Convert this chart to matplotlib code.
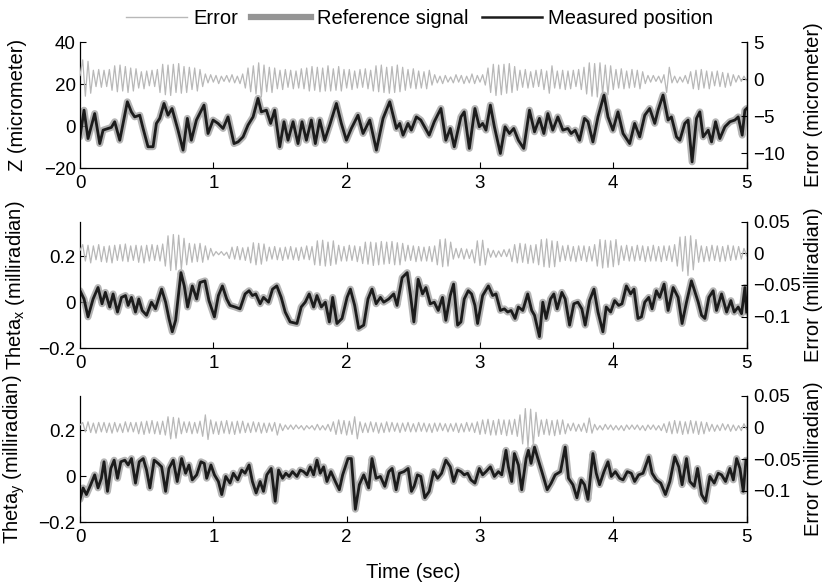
import numpy as np
import matplotlib
matplotlib.use("Agg")
import matplotlib.pyplot as plt
from matplotlib.lines import Line2D

plt.rcParams['font.family'] = ['Liberation Sans', 'DejaVu Sans']
plt.rcParams['mathtext.fontset'] = 'custom'
plt.rcParams['mathtext.rm'] = 'Liberation Sans'

# ---- data ----
# Z axis: measured position (micrometer), sampled at the turning points
z_t = [0.000, 0.030, 0.060, 0.110, 0.148, 0.173, 0.210, 0.235, 0.260, 0.298, 0.355, 0.385, 0.410, 0.448, 0.473,
       0.510, 0.548, 0.573, 0.598, 0.630, 0.660, 0.690, 0.735, 0.773, 0.805, 0.835, 0.873, 0.930, 0.960, 0.998,
       1.035, 1.073, 1.110, 1.155, 1.185, 1.223, 1.260, 1.298, 1.335, 1.360, 1.398, 1.430, 1.460, 1.498, 1.530,
       1.560, 1.598, 1.635, 1.665, 1.698, 1.735, 1.765, 1.798, 1.835, 1.873, 1.923, 1.960, 1.998, 2.035, 2.085,
       2.123, 2.173, 2.223, 2.273, 2.323, 2.373, 2.398, 2.423, 2.460, 2.485, 2.523,
       2.556, 2.619, 2.657, 2.707, 2.744, 2.777, 2.807, 2.857, 2.882, 2.920, 2.962, 2.995, 3.020, 3.045, 3.078,
       3.108, 3.153, 3.188, 3.221, 3.253, 3.288, 3.328, 3.371, 3.409, 3.446, 3.479, 3.509, 3.546, 3.584, 3.622,
       3.659, 3.684, 3.714, 3.747, 3.784, 3.810, 3.847, 3.885, 3.930, 3.960, 3.997, 4.035, 4.073, 4.123, 4.160,
       4.198, 4.236, 4.273, 4.311, 4.336, 4.373, 4.411, 4.436, 4.474, 4.499, 4.536, 4.561, 4.591, 4.624, 4.649,
       4.674, 4.712, 4.737, 4.767, 4.799, 4.837, 4.875, 4.912, 4.937, 4.967, 4.987, 5.000]
z_pos = [-5.1, 7.6, -5.9, 6.0, -8.3, -1.9, -1.1, -0.6, 2.1, -6.7, 11.6, 6.8, 4.4, 5.2, -1.1,
         -9.8, -9.8, 1.3, 3.7, 10.8, 5.2, 8.4, -1.9, -11.4, 3.7, -6.7, 2.9, 10.0, -3.5, 2.9,
         1.3, -1.1, 4.4, -8.3, -7.5, -5.1, 0.5, 4.4, 13.2, 6.8, 7.6, 1.3, 7.6, -9.8, 2.1,
         -6.7, 2.1, -8.3, 2.1, -6.7, 2.9, -8.3, 2.9, -6.7, 0.5, 10.8, 1.3, -6.7, -1.1, 5.2,
         -3.5, 2.9, -11.4, 3.7, 11.6, -1.1, 1.3, -4.3, 1.3, -1.9, 4.4,
         2.9, -4.3, 2.1, 8.4, -6.7, -1.1, -9.8, 4.4, 6.8, -10.6, 8.4, -0.3, 1.3, -1.9, 10.0,
         -0.3, -13.0, -0.3, -3.5, -1.1, -6.7, -10.6, 7.6, -2.7, 3.7, -3.5, 6.0, -1.9, 4.4, -1.9,
         -1.1, -3.5, -1.9, -6.7, 3.7, 2.1, -7.5, 4.4, 14.8, 4.4, -1.9, 6.8, -3.5, -8.3, 1.3,
         -5.1, 5.2, 8.4, 1.3, 7.6, 14.8, 2.9, 4.4, -5.1, -6.7, 1.3, 2.9, -17.0, 3.7, 6.8,
         -5.1, -1.9, -7.5, 2.1, -5.9, -0.3, 2.1, 2.9, 4.4, -4.3, 7.6, 8.4]
# reference signal lies on top of the measured one at this scale
z_ref = z_pos

# Theta_x: measured position (milliradian)
thx_t = [0.000, 0.030, 0.060, 0.098, 0.135, 0.165, 0.190, 0.223, 0.248, 0.281, 0.311, 0.341, 0.361, 0.386, 0.416,
         0.441, 0.466, 0.499, 0.536, 0.566, 0.612, 0.642, 0.667, 0.692, 0.717, 0.757, 0.782, 0.807, 0.842, 0.875,
         0.900, 0.937, 0.967, 1.008, 1.038, 1.068, 1.100, 1.125, 1.163, 1.200, 1.238, 1.268, 1.293, 1.318, 1.351,
         1.376, 1.414, 1.444, 1.476, 1.509, 1.539, 1.576, 1.627, 1.659, 1.689, 1.719, 1.752, 1.777, 1.810, 1.840,
         1.870, 1.895, 1.927, 1.965, 2.003, 2.028, 2.060, 2.090, 2.128, 2.160, 2.190, 2.221, 2.253, 2.278, 2.316,
         2.353, 2.378, 2.416, 2.454, 2.479, 2.504,
         2.536, 2.569, 2.594, 2.627, 2.657, 2.687, 2.719, 2.744, 2.777, 2.802, 2.832, 2.857, 2.882, 2.912, 2.937,
         2.962, 2.982, 3.020, 3.063, 3.095, 3.120, 3.153, 3.183, 3.208, 3.233, 3.263, 3.288, 3.321, 3.358, 3.388,
         3.409, 3.446, 3.471, 3.496, 3.529, 3.554, 3.579, 3.614, 3.639, 3.672, 3.704, 3.734, 3.764, 3.789, 3.822,
         3.855, 3.885, 3.922, 3.947, 3.980, 4.010, 4.040, 4.065, 4.098, 4.130, 4.155, 4.185, 4.211, 4.236, 4.266,
         4.291, 4.323, 4.348, 4.381, 4.411, 4.449, 4.486, 4.516, 4.549, 4.586, 4.617, 4.637, 4.662, 4.687, 4.717,
         4.749, 4.774, 4.812, 4.850, 4.882, 4.907, 4.937, 4.962, 4.987, 5.000]
thx_pos = [0.050, 0.014, -0.064, 0.014, 0.064, -0.007, 0.043, -0.021, 0.036, -0.043, 0.021, 0.029, -0.014, 0.021, -0.043,
           0.014, -0.036, -0.057, 0.000, -0.029, 0.057, 0.000, -0.071, -0.129, -0.079, 0.129, 0.071, -0.021, 0.071, 0.014,
           0.086, 0.093, 0.007, -0.064, 0.029, 0.071, 0.014, -0.014, -0.021, -0.029, 0.036, 0.050, 0.029, 0.036, -0.007,
           0.021, 0.000, 0.057, 0.071, 0.021, -0.043, -0.086, -0.093, -0.021, 0.000, 0.036, -0.021, 0.029, -0.021, 0.000,
           -0.086, 0.021, -0.093, -0.071, 0.021, 0.057, -0.014, -0.114, -0.100, 0.014, 0.057, -0.007, 0.021, 0.000, 0.014,
           0.036, -0.014, 0.107, 0.129, 0.029, -0.086,
           0.100, 0.036, 0.064, -0.007, 0.000, -0.036, 0.021, -0.079, 0.029, 0.079, -0.100, -0.086, 0.014, 0.050, 0.036,
           -0.014, -0.093, 0.029, 0.071, 0.029, 0.036, -0.036, -0.029, -0.043, -0.036, -0.071, -0.021, -0.036, 0.036, -0.036,
           -0.057, -0.150, 0.000, -0.071, 0.014, 0.036, -0.029, 0.043, 0.014, -0.100, -0.007, 0.000, -0.029, -0.100, 0.007,
           0.057, -0.043, -0.129, -0.021, -0.043, 0.007, -0.014, -0.007, 0.071, 0.036, 0.057, -0.071, -0.064, 0.000, 0.021,
           -0.029, 0.050, 0.021, 0.079, -0.036, 0.064, 0.021, -0.093, 0.000, 0.093, 0.036, 0.000, -0.057, -0.071, 0.021,
           0.050, -0.036, 0.036, -0.043, 0.007, -0.043, -0.021, -0.050, 0.064, -0.043]
thx_ref = thx_pos

# Theta_y: measured position (milliradian)
thy_t = [0.000, 0.023, 0.048, 0.080, 0.110, 0.135, 0.160, 0.180, 0.206, 0.231, 0.256, 0.281, 0.306, 0.336, 0.361,
         0.386, 0.416, 0.444, 0.474, 0.499, 0.524, 0.556, 0.586, 0.612, 0.642, 0.667, 0.699, 0.729, 0.762, 0.792,
         0.817, 0.842, 0.875, 0.907, 0.932, 0.950, 0.982, 1.008, 1.038, 1.063, 1.093, 1.125, 1.150, 1.183, 1.213,
         1.238, 1.268, 1.293, 1.321, 1.351, 1.376, 1.401, 1.434, 1.464, 1.489, 1.519, 1.544, 1.569, 1.594, 1.627,
         1.652, 1.677, 1.702, 1.727, 1.752, 1.777, 1.802, 1.827, 1.852, 1.882, 1.915, 1.945, 1.970, 2.010, 2.035,
         2.065, 2.095, 2.128, 2.165, 2.190, 2.221, 2.253, 2.286, 2.316, 2.341, 2.371, 2.396, 2.429, 2.461, 2.486,
         2.506, 2.531, 2.556, 2.586, 2.619, 2.652, 2.682, 2.712, 2.744, 2.777, 2.802, 2.832, 2.857, 2.882, 2.907,
         2.932, 2.962, 2.995, 3.020, 3.045, 3.078, 3.108, 3.138, 3.163, 3.195, 3.213, 3.238, 3.258, 3.288, 3.313,
         3.346, 3.363, 3.383, 3.409, 3.434, 3.464, 3.504, 3.534, 3.564, 3.604, 3.639, 3.664, 3.697, 3.727, 3.759,
         3.784, 3.810, 3.847, 3.872, 3.897, 3.930, 3.960, 3.985, 4.015, 4.048, 4.073, 4.105, 4.135, 4.160, 4.190,
         4.223, 4.266, 4.291, 4.323, 4.356, 4.391, 4.424, 4.461, 4.491, 4.516, 4.549, 4.574, 4.607, 4.632, 4.662,
         4.692, 4.724, 4.757, 4.787, 4.812, 4.842, 4.875, 4.900, 4.925, 4.950, 4.975, 4.995]
thy_pos = [-0.101, -0.051, -0.080, -0.037, 0.006, -0.051, -0.009, 0.063, -0.066, 0.034, 0.070, -0.009, 0.063, 0.070, 0.049,
           0.077, -0.030, 0.063, 0.077, 0.027, -0.051, 0.070, 0.056, 0.041, -0.066, 0.034, 0.070, -0.023, 0.077, 0.013,
           0.049, -0.016, 0.006, 0.063, 0.056, -0.009, 0.049, 0.006, -0.023, -0.080, -0.001, -0.030, 0.013, -0.016, 0.027,
           0.013, 0.049, -0.023, -0.073, -0.023, -0.066, 0.006, 0.034, -0.109, 0.027, -0.009, 0.013, -0.001, 0.020, -0.001,
           0.027, 0.020, 0.006, 0.041, 0.006, 0.070, 0.013, 0.041, -0.023, 0.020, -0.023, -0.059, 0.006, 0.077, 0.077,
           -0.144, -0.037, 0.006, -0.051, 0.077, -0.009, -0.001, -0.044, 0.020, 0.034, -0.059, 0.013, 0.020, 0.034, -0.066,
           -0.044, 0.006, -0.001, -0.094, -0.066, 0.020, -0.009, 0.013, 0.070, 0.041, -0.023, 0.027, 0.020, 0.006, 0.013,
           -0.016, -0.030, 0.034, 0.006, 0.020, 0.041, -0.001, 0.020, 0.006, 0.113, 0.041, -0.023, 0.099, 0.049, -0.059,
           0.077, 0.113, 0.056, 0.127, 0.077, 0.020, -0.059, -0.030, 0.006, 0.020, 0.127, -0.009, -0.037, -0.094, -0.016,
           -0.037, -0.101, 0.099, 0.013, -0.037, 0.020, 0.063, -0.001, 0.020, -0.009, -0.016, 0.020, 0.013, -0.023, 0.006,
           0.013, 0.084, 0.013, -0.016, -0.030, -0.080, -0.023, 0.084, 0.041, -0.037, 0.077, -0.023, -0.044, 0.034, -0.080,
           -0.109, -0.001, -0.030, 0.013, 0.006, -0.023, 0.034, -0.016, 0.077, 0.034, -0.066, 0.070]
thy_ref = thy_pos

# tracking errors, one value every 0.02 s from 0 to 5 s
err_t = np.linspace(0, 5, 251)
z_err = [0.5, 2.6, -2.3, 2.4, -1.9, 1.2, -1.0, 1.3, -1.1, 1.2,
         -1.0, 1.3, -1.5, 1.8, -1.7, 1.9, -1.6, 1.7, -1.8, 1.5,
         -1.6, 1.4, -1.2, 1.0, -1.3, 1.1, -0.9, 1.2, -1.0, 1.3,
         -1.8, 2.0, -2.1, 1.9, -2.2, 2.0, -1.8, 2.1, -1.9, 1.7,
         -1.8, 1.6, -1.4, 1.5, -1.6, 1.3, -1.0, 0.7, -0.5, 0.6,
         -0.4, 0.5, -0.6, 0.4, -0.3, 0.5, -0.4, 0.6, -0.5, 0.4,
         -0.6, 0.7, -1.2, 1.5, -1.7, 1.8, -2.0, 2.2, -2.4, 1.9,
         -1.7, 1.6, -1.8, 1.5, -1.3, 1.2, -1.4, 1.3, -1.1, 1.2,
         -1.3, 1.1, -1.2, 1.4, -1.3, 1.5, -1.6, 1.7, -1.5, 1.6,
         -1.7, 1.5, -1.6, 1.8, -1.6, 1.4, -1.5, 1.7, -1.6, 1.3,
         -1.2, 1.3, -1.4, 1.1, -1.2, 1.3, -1.1, 1.4, -1.3, 1.2,
         -1.6, 1.8, -1.7, 1.9, -1.8, 1.6, -1.9, 1.7, -1.8, 1.9,
         -1.7, 1.6, -1.5, 1.3, -1.2, 1.4, -1.3, 1.1, -1.2, 1.0,
         -1.3, 1.2, -0.8, 0.6, -0.5, 0.4, -0.6, 0.5, -0.4, 0.3,
         -0.5, 0.6, -0.4, 0.5, -0.6, 0.4, -0.5, 0.7, -0.6, 0.5,
         -0.4, 0.6, -0.8, 1.5, -1.8, 2.0, -2.2, 1.9, -2.1, 2.0,
         -1.9, 2.1, -1.8, 1.7, -1.5, 1.2, -1.1, 1.3, -1.2, 1.0,
         -1.1, 1.2, -1.0, 1.3, -1.4, 1.1, -1.9, 1.8, -1.2, 1.1,
         -1.3, 1.2, -1.4, 1.1, -1.3, 1.2, -1.0, 1.3, -1.4, 1.6,
         -2.0, 2.2, -2.3, 2.1, -2.4, 2.2, -2.0, 1.9, -2.1, 1.8,
         -1.4, 1.3, -1.2, 1.4, -1.3, 1.1, -1.2, 1.3, -1.1, 1.2,
         -1.3, 1.0, -0.6, 0.5, -0.4, 0.5, -0.3, 0.4, -0.5, 0.6,
         -1.8, 1.6, -0.5, 0.4, -0.5, 0.3, -0.4, 0.5, -0.6, 1.0,
         -1.3, 1.2, -1.4, 1.3, -1.2, 1.1, -1.3, 1.0, -0.9, 1.1,
         -1.0, 0.9, -1.1, 0.8, -0.9, 0.6, -0.4, 0.5, -0.3, 0.4,
         -0.2]
# angle errors in units of 0.001 milliradian
thx_err_k = [5, 14, -12, 13, -15, 12, -10, 14, -13, 11,
             -14, 12, -15, 13, -11, 14, -12, 15, -13, 12,
             -11, 13, -14, 12, -15, 13, -12, 14, -11, 13,
             -12, 15, -20, 28, -27, 30, -26, 29, -25, 24,
             -18, 16, -14, 15, -13, 16, -14, 12, -10, 8,
             -4, 3, -2, 3, -3, 2, -8, 10, -9, 11,
             -10, 9, -11, 10, -15, 17, -18, 16, -17, 15,
             -12, 10, -9, 11, -10, 9, -11, 10, -9, 11,
             -10, 9, -11, 10, -9, 12, -10, 11, -18, 20,
             -19, 21, -20, 18, -19, 20, -17, 13, -12, 11,
             -12, 13, -11, 12, -13, 11, -16, 18, -17, 18,
             -19, 17, -18, 19, -17, 18, -16, 19, -18, 17,
             -18, 16, -12, 13, -11, 12, -13, 11, -12, 10,
             -12, 11, -13, 12, -18, 22, -21, 23, -20, 18,
             -9, 8, -7, 8, -9, 7, -8, 6, -15, 20,
             -19, 21, -18, 8, -6, 5, -6, 4, -5, 6,
             -5, 7, -13, 14, -15, 16, -14, 15, -16, 13,
             -15, 14, -18, 22, -21, 23, -22, 20, -21, 19,
             -13, 12, -11, 13, -12, 11, -13, 12, -11, 12,
             -13, 11, -12, 14, -20, 22, -23, 21, -22, 20,
             -21, 22, -18, 12, -11, 13, -12, 11, -12, 13,
             -11, 12, -13, 11, -12, 13, -12, 11, -13, 12,
             -11, 12, -13, 14, -20, 26, -28, 27, -35, 28,
             -26, 22, -14, 12, -13, 11, -12, 13, -11, 12,
             -13, 11, -12, 13, -11, 12, -10, 11, -9, 8,
             -4]
thy_err_k = [4, 8, -7, 9, -8, 7, -9, 8, -7, 8,
             -8, 7, -9, 8, -7, 6, -8, 9, -7, 8,
             -7, 8, -10, 9, -11, 10, -9, 11, -10, 9,
             -11, 10, -12, 17, -18, 16, -17, 15, -10, 9,
             -8, 9, -10, 8, -9, 10, -14, 20, -19, 12,
             -10, 9, -11, 10, -9, 11, -10, 9, -11, 10,
             -9, 10, -8, 7, -8, 9, -7, 8, -9, 7,
             -8, 7, -6, 8, -12, 6, -5, 4, -3, 4,
             -3, 4, -2, 3, -4, 3, -2, 3, -4, 5,
             -4, 3, -4, 5, -6, 9, -11, 12, -10, 11,
             -12, 10, -11, 17, -18, 9, -8, 7, -8, 9,
             -7, 8, -9, 7, -8, 9, -7, 8, -6, 7,
             -8, 7, -6, 8, -7, 6, -7, 8, -6, 7,
             -7, 6, -8, 7, -6, 7, -5, 6, -7, 6,
             -6, 7, -8, 6, -7, 8, -6, 7, -8, 9,
             -11, 12, -10, 13, -12, 11, -12, 13, -11, 12,
             -13, 12, -11, 13, -14, 20, -26, 30, -31, 29,
             -28, 24, -14, 12, -11, 13, -12, 11, -13, 12,
             -11, 12, -10, 6, -5, 7, -6, 5, -6, 7,
             -8, 15, -9, 5, -4, 3, -4, 5, -3, 4,
             -4, 3, -4, 3, -5, 4, -3, 4, -3, 4,
             -4, 3, -5, 4, -3, 4, -4, 3, -5, 6,
             -8, 9, -10, 11, -9, 10, -11, 9, -10, 11,
             -9, 10, -11, 9, -10, 8, -6, 5, -6, 4,
             -5, 6, -4, 5, -6, 4, -5, 3, -5, 6,
             -3]
thx_err = np.array(thx_err_k) * 1e-3
thy_err = np.array(thy_err_k) * 1e-3

panels = [
    dict(t=z_t, pos=z_pos, ref=z_ref, err=z_err,
         ylim=(-20, 40), yticks=[-20, 0, 20, 40], ylabels=['\u221220', '0', '20', '40'],
         elim=(-12, 5), eticks=[-10, -5, 0, 5], elabels=['\u221210', '\u22125', '0', '5'],
         ylab='Z (micrometer)', elab='Error (micrometer)'),
    dict(t=thx_t, pos=thx_pos, ref=thx_ref, err=thx_err,
         ylim=(-0.2, 0.35), yticks=[-0.2, 0, 0.2], ylabels=['\u22120.2', '0', '0.2'],
         elim=(-0.15, 0.05), eticks=[-0.1, -0.05, 0, 0.05], elabels=['\u22120.1', '\u22120.05', '0', '0.05'],
         ylab='Theta$_\\mathregular{x}$ (milliradian)', elab='Error (milliradian)'),
    dict(t=thy_t, pos=thy_pos, ref=thy_ref, err=thy_err,
         ylim=(-0.2, 0.35), yticks=[-0.2, 0, 0.2], ylabels=['\u22120.2', '0', '0.2'],
         elim=(-0.15, 0.05), eticks=[-0.1, -0.05, 0, 0.05], elabels=['\u22120.1', '\u22120.05', '0', '0.05'],
         ylab='Theta$_\\mathregular{y}$ (milliradian)', elab='Error (milliradian)'),
]

ERR_C = '#b8b8b8'
REF_C = '#959595'
POS_C = '#1c1c1c'
FS = 14.5      # labels and legend
TFS = 13.5     # tick labels

fig = plt.figure(figsize=(8.25, 5.84), dpi=100)
bottoms = [0.712, 0.404, 0.106]

for p, b in zip(panels, bottoms):
    ax = fig.add_axes([0.097, b, 0.808, 0.216])
    ax2 = ax.twinx()

    ax.plot(p['t'], p['ref'], color=REF_C, lw=5, solid_capstyle='round', alpha=0.7)
    ax.plot(p['t'], p['pos'], color=POS_C, lw=2.0)
    ax2.plot(err_t, p['err'], color=ERR_C, lw=0.9)

    ax.set_xlim(0, 5)
    ax.set_ylim(*p['ylim'])
    ax.set_yticks(p['yticks'])
    ax.set_yticklabels(p['ylabels'])
    ax.set_xticks([0, 1, 2, 3, 4, 5])
    ax.set_xticklabels(['0', '1', '2', '3', '4', '5'])
    ax2.set_ylim(*p['elim'])
    ax2.set_yticks(p['eticks'])
    ax2.set_yticklabels(p['elabels'])

    for a in (ax, ax2):
        a.spines['top'].set_visible(False)
        a.tick_params(direction='in', length=4, width=0.8, labelsize=TFS, pad=3)
        for s in a.spines.values():
            s.set_linewidth(0.9)
    ax.tick_params(axis='x', pad=5)
    ax2.tick_params(axis='y', pad=5)
    ax2.spines['left'].set_visible(False)
    ax2.spines['bottom'].set_visible(False)

    ax.set_ylabel(p['ylab'], fontsize=FS)
    ax.yaxis.set_label_coords(-0.08, 0.5)
    ax2.set_ylabel(p['elab'], fontsize=FS)
    ax2.yaxis.set_label_coords(1.086, 0.5)

ax.set_xlabel('Time (sec)', fontsize=FS, labelpad=12)

handles = [Line2D([], [], color=ERR_C, lw=1.0),
           Line2D([], [], color=REF_C, lw=4.5),
           Line2D([], [], color=POS_C, lw=1.8)]
fig.legend(handles, ['Error', 'Reference signal', 'Measured position'],
           loc='center', bbox_to_anchor=(0.509, 0.968), ncol=3, frameon=False,
           fontsize=FS, handlelength=3.0, handletextpad=0.3, columnspacing=0.65)

fig.savefig('out.png', dpi=100)
